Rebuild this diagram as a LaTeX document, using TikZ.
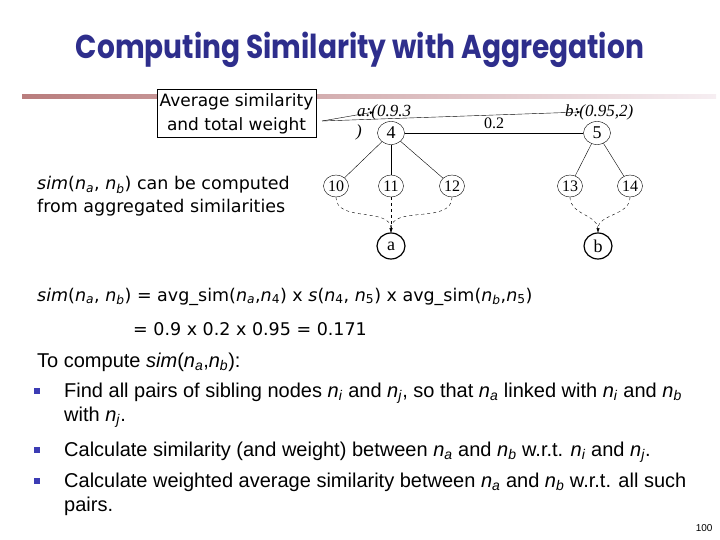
\documentclass[tikz,border=0pt]{standalone}
\usepackage{fontspec}
\setmainfont{Liberation Sans}
\newfontfamily\titlefont[FakeStretch=0.85]{Poppins}
\newfontfamily\tahomafont{DejaVu Sans}
\newfontfamily\treefont{Liberation Serif}
\usetikzlibrary{arrows, positioning, shapes.geometric}

\definecolor{titleblue}{RGB}{46,46,140}
\definecolor{bulletblue}{RGB}{60,60,180}
\definecolor{barbrown}{RGB}{185,125,125}
\definecolor{barpink}{RGB}{246,238,242}

% n with an index
\newcommand{\nidx}[2]{\textit{#1}\textsubscript{\textit{#2}}}

\begin{document}
\begin{tikzpicture}[
    x=1pt, y=-1pt,
    treenode/.style={ellipse, draw, inner sep=0pt, minimum width=25pt, minimum height=22pt, font=\treefont\fontsize{16}{16}\selectfont},
    topnode/.style={treenode, minimum width=27pt, minimum height=23pt, font=\treefont\fontsize{18}{18}\selectfont},
    leafnode/.style={treenode, very thick, minimum width=28pt, minimum height=26pt, font=\treefont\fontsize{18}{18}\selectfont},
    link/.style={thin},
    agg/.style={->, >=latex, dashed, thin},
    arrow/.style={-latex, thin},
    lbl/.style={font=\treefont\itshape\fontsize{17}{17}\selectfont, inner sep=0pt},
    slidetext/.style={anchor=base west, inner sep=0pt, font=\tahomafont\fontsize{17.5}{23}\selectfont},
    bullettext/.style={anchor=base west, inner sep=0pt, align=left, font=\fontsize{20}{24}\selectfont},
    bullet/.style={rectangle, fill=bulletblue, minimum size=6pt, inner sep=0pt}
]
\useasboundingbox (0,0) rectangle (720,540);

% Title
\node[font=\titlefont\bfseries\fontsize{33}{38}\selectfont, text=titleblue] (title) at (360,50) {Computing Similarity with Aggregation};
\shade[left color=barbrown, right color=barpink] (22,95) rectangle (716,99);

% Nodes
\node[draw, fill=white, align=center, minimum width=159pt, minimum height=48pt, inner sep=1pt, font=\tahomafont\fontsize{17}{24}\selectfont] (avgbox) at (236.5,113.5) {Average similarity\\and total weight};
% (base of a wrapped node = its last line)
\node[slidetext, align=left] (simnote) at (37,213) {\textit{sim}(\nidx{n}{a}, \nidx{n}{b}) can be computed\\from aggregated similarities};

\node[topnode] (n4) at (391,133) {4};
\node[topnode] (n5) at (597,133) {5};
\node[treenode] (n10) at (336,186) {10};
\node[treenode] (n11) at (391,186) {11};
\node[treenode] (n12) at (452,186) {12};
\node[treenode] (n13) at (570,186) {13};
\node[treenode] (n14) at (630,186) {14};
\node[leafnode] (na) at (391,246) {a};
\node[leafnode] (nb) at (598,246) {b};

\node[lbl, anchor=base west] (lbla) at (357,117) {a:(0.9.3};
\node[lbl] (lblaend) at (359,132) {)};
\node[lbl, anchor=base west] (lblb) at (565,117) {b:(0.95,2)};
\coordinate (boxout) at (322,121);
\coordinate (tipa) at (374,112);
\coordinate (tipb) at (581,112);

% Arrows
\draw[arrow] (boxout) -- (tipa);
\draw[arrow] (boxout) -- (tipb);
\draw[link] (n4) -- node[above=1pt, font=\treefont\fontsize{16}{16}\selectfont] (wlabel) {0.2} (n5);
\foreach \c in {n10,n11,n12} \draw[link] (n4) -- (\c);
\foreach \c in {n13,n14} \draw[link] (n5) -- (\c);
\draw[agg] (n10.south) to[out=-90, in=90] (na.north);
\draw[agg] (n11.south) -- (na.north);
\draw[agg] (n12.south) to[out=-90, in=90] (na.north);
\draw[agg] (n13.south) to[out=-90, in=90] (nb.north);
\draw[agg] (n14.south) to[out=-90, in=90] (nb.north);

% Formula
\node[slidetext] (eqone) at (37,301) {\textit{sim}(\nidx{n}{a}, \nidx{n}{b}) = avg\_sim(\nidx{n}{a},\textit{n}\textsubscript{4}) x \textit{s}(\textit{n}\textsubscript{4}, \textit{n}\textsubscript{5}) x avg\_sim(\nidx{n}{b},\textit{n}\textsubscript{5})};
\node[slidetext] (eqtwo) at (133,335) {= 0.9 x 0.2 x 0.95 = 0.171};

% Steps
\node[bullettext] (tocompute) at (37,367) {To compute \textit{sim}(\nidx{n}{a},\nidx{n}{b}):};
\node[bullet] (bul1) at (37,391) {};
\node[bullet] (bul2) at (37,450) {};
\node[bullet] (bul3) at (37,481) {};
\node[bullettext] (step1) at (64,421) {Find all pairs of sibling nodes \nidx{n}{i} and \nidx{n}{j}, so that \nidx{n}{a} linked with \nidx{n}{i} and \nidx{n}{b}\\with \nidx{n}{j}.};
\node[bullettext] (step2) at (64,456) {Calculate similarity (and weight) between \nidx{n}{a} and \nidx{n}{b} w.r.t. \nidx{n}{i} and \nidx{n}{j}.};
\node[bullettext] (step3) at (64,511) {Calculate weighted average similarity between \nidx{n}{a} and \nidx{n}{b} w.r.t. all such\\pairs.};
\node[anchor=base east, font=\fontsize{10}{10}\selectfont] (pagenum) at (716,531) {100};

\end{tikzpicture}
\end{document}
